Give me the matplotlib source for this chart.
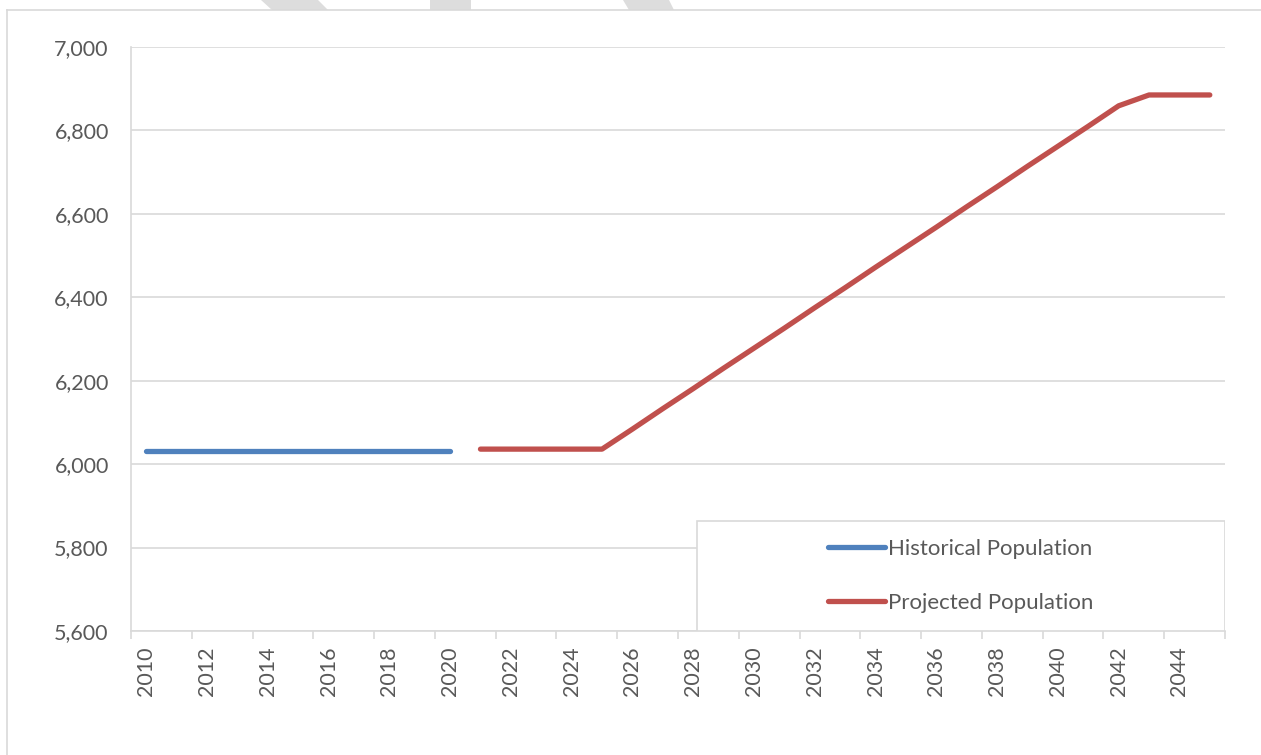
import numpy as np
import matplotlib.pyplot as plt
from matplotlib.patches import Polygon, Rectangle
from matplotlib.lines import Line2D

# Daten
years = list(range(2010, 2046))
historical = [6032] * 11 + [np.nan] * 25
projected = [np.nan] * 11 + [6036, 6036, 6036, 6036, 6036,
                             6084, 6133, 6181, 6230, 6278, 6326, 6375,
                             6423, 6472, 6520, 6568, 6617, 6665, 6714,
                             6762, 6810, 6859, 6885, 6885, 6885]
labels = ['Historical Population', 'Projected Population']
colors = ['#4F81BD', '#C0504D']

W, H = 1261, 755
plt.rcParams['font.family'] = ['Lato', 'DejaVu Sans']
fig = plt.figure(figsize=(W / 100, H / 100), dpi=100)
ax = fig.add_axes([131 / W, 1 - 631 / H, (1225 - 131) / W, (631 - 47) / H])

x = np.arange(len(years))
ax.plot(x, historical, color=colors[0], lw=3.8, solid_capstyle='round',
        solid_joinstyle='round', label=labels[0])
ax.plot(x, projected, color=colors[1], lw=3.8, solid_capstyle='round',
        solid_joinstyle='round', label=labels[1])

ax.set_xlim(-0.5, len(years) - 0.5)
ax.set_ylim(5600, 7000)
ax.set_yticks(np.arange(5600, 7001, 200))
ax.set_yticklabels([f'{v:,}' for v in range(5600, 7001, 200)])
ax.yaxis.grid(True, color='#D9D9D9', lw=1.2)
ax.set_axisbelow(True)

# Tickmarks zwischen den Kategorien, Beschriftung in der Mitte
ax.set_xticks(np.arange(-0.5, len(years), 2))
ax.set_xticklabels([])
ax.set_xticks(x[::2], minor=True)
ax.set_xticklabels([str(y) for y in years[::2]], minor=True, rotation=90)
ax.tick_params(axis='x', which='major', length=6, color='#D9D9D9', width=1.2)
ax.tick_params(axis='x', which='minor', length=0, pad=11, labelsize=15.5,
               labelcolor='#595959')
ax.tick_params(axis='y', length=0, pad=16, labelsize=15.5, labelcolor='#595959')

for s in ['top', 'right']:
    ax.spines[s].set_visible(False)
for s in ['left', 'bottom']:
    ax.spines[s].set_color('#D9D9D9')
    ax.spines[s].set_linewidth(1.2)

# Legendenrahmen
lx0 = (697 - 131) / 1094
ly1 = (631 - 521) / 584
ax.add_patch(Rectangle((lx0, 0), 1 - lx0, ly1, transform=ax.transAxes,
                       facecolor='white', edgecolor='#D9D9D9', lw=1.2,
                       zorder=5))
leg = ax.legend(loc='center', bbox_to_anchor=((lx0 + 1) / 2, ly1 / 2),
                frameon=False, fontsize=16, labelspacing=1.55,
                handlelength=2.55, handletextpad=0.15, labelcolor='#595959')
leg.set_zorder(6)

# Rahmen des Diagrammbereichs
fig.add_artist(Line2D([7 / W, 7 / W], [0, 1 - 10 / H], color='#D9D9D9', lw=1.2))
fig.add_artist(Line2D([7 / W, 1], [1 - 10 / H, 1 - 10 / H], color='#D9D9D9', lw=1.2))

# Reste des Wasserzeichens oben
marks = [[(261, 0), (318, 0), (328, 10), (272, 10)],
         [(430, 0), (471, 0), (471, 10), (430, 10)],
         [(623, 0), (669, 0), (674, 10), (629, 10)]]
for m in marks:
    fig.patches.append(Polygon([(px / W, 1 - py / H) for px, py in m],
                               closed=True, transform=fig.transFigure,
                               facecolor='#DDDDDD', edgecolor='none'))

fig.savefig('out.png', dpi=100)
